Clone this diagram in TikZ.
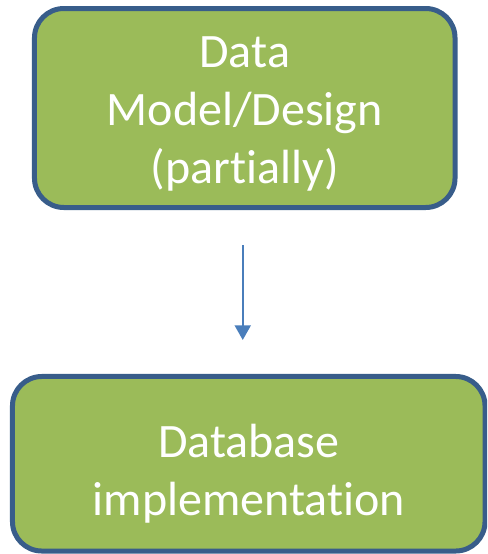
\documentclass[tikz,border=0pt]{standalone}
\usepackage{fontspec}
\setmainfont{Carlito}[Ligatures={NoCommon}]
\usetikzlibrary{arrows.meta}
\definecolor{boxgreen}{HTML}{9BBB59}
\definecolor{boxedge}{HTML}{385D8A}
\definecolor{flowblue}{HTML}{4A7EBB}
\tikzset{
  stagebox/.style={draw=boxedge, fill=boxgreen, line width=3.75pt, rounded corners=22pt, inner sep=0pt},
  stagetext/.style={text=white, align=center, font=\fontsize{36}{43.5}\selectfont},
  flow/.style={draw=flowblue, line width=1.5pt, -{Triangle[width=12pt, length=11pt]}}
}
\begin{document}
\begin{tikzpicture}[x=0.75pt, y=-0.75pt]
        \useasboundingbox (0,0) rectangle (487,554);
        \clip (0,0) rectangle (487,554);
        \node[stagebox, minimum width=315.4pt, minimum height=149.25pt] (model) at (244.75,108) {};
        \node[stagebox, minimum width=354.4pt, minimum height=130.9pt] (impl) at (248.75,463.75) {};
        \node[stagetext, yshift=-4.5pt] (modeltext) at (model.center) {Data\\Model/Design\\(partially)};
        \node[stagetext, yshift=-7.3pt] (impltext) at (impl.center) {Database\\implementation};
        \draw[flow, shorten <=26.3pt, shorten >=25.5pt] ([xshift=-1.5pt]model.south) -- ([xshift=-1.5pt]model.south |- impl.north);
      \end{tikzpicture}
\end{document}
